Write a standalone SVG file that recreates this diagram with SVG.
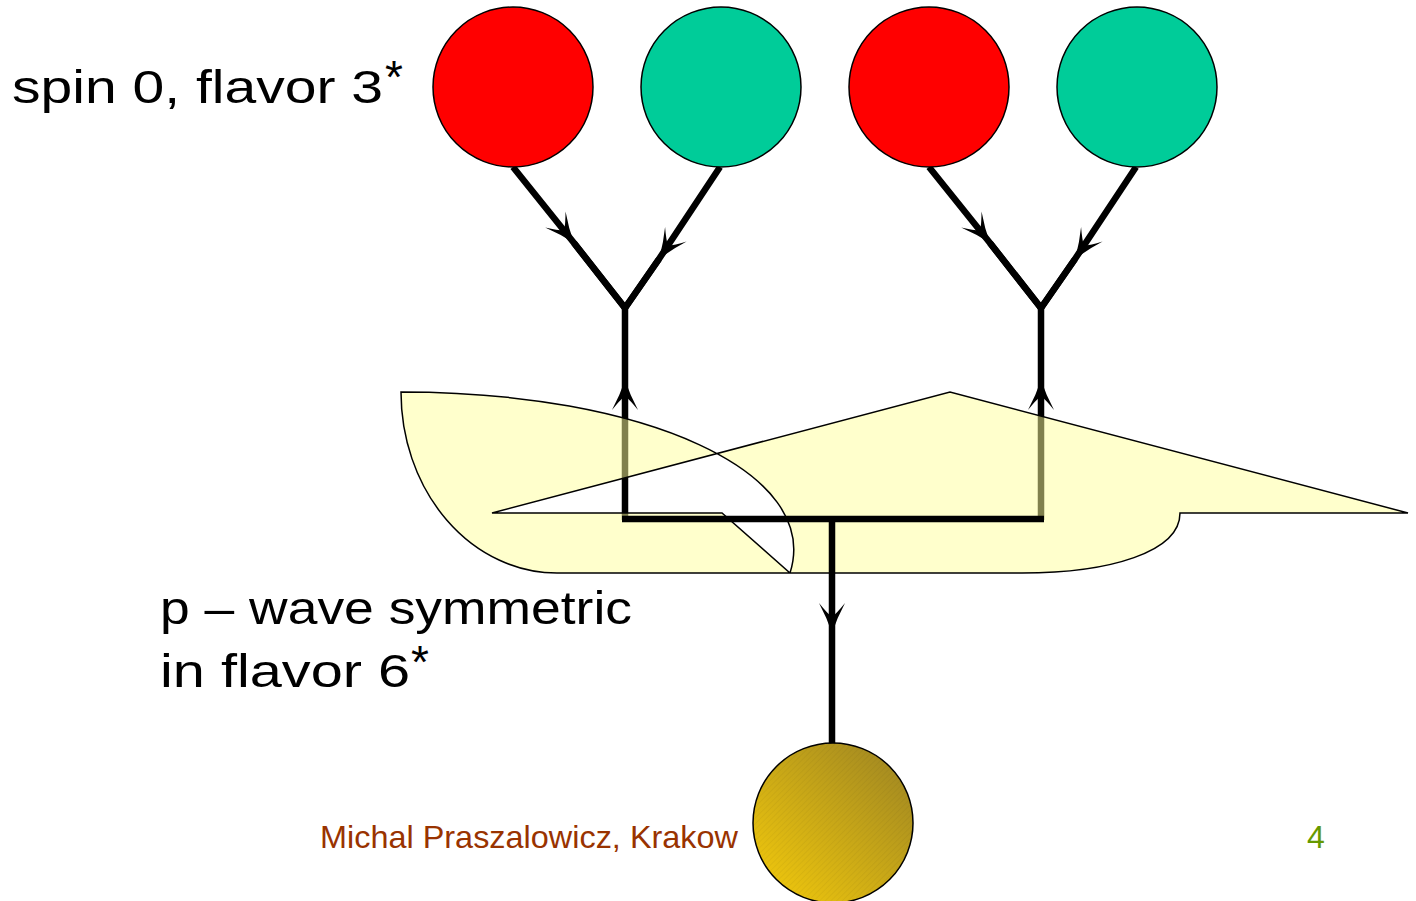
<svg xmlns="http://www.w3.org/2000/svg" width="1416" height="901" viewBox="0 0 1416 901">
<style>
.circ{stroke:#000;stroke-width:1.5}
.con{fill:none;stroke:#000;stroke-width:6.5;stroke-linejoin:miter}
.lbl{font-family:"Liberation Sans",Arial,sans-serif;font-size:46px;fill:#000}
.foot{font-family:"Liberation Sans",Arial,sans-serif;font-size:32px}
</style>
<defs>
<marker id="arr" markerUnits="userSpaceOnUse" markerWidth="34" markerHeight="30" viewBox="0 0 34 30" refX="30" refY="15" orient="auto">
<path d="M30,15 Q15,10 0,2 Q10,10 14,15 Q10,20 0,28 Q15,20 30,15 Z" fill="#000"/>
</marker>
<linearGradient id="gold" x1="0" y1="1" x2="1" y2="0">
<stop offset="0" stop-color="#F7CD0A"/>
<stop offset="1" stop-color="#9A8224"/>
</linearGradient>
<pattern id="hatch" patternUnits="userSpaceOnUse" width="4" height="4" patternTransform="rotate(45)">
<line x1="0" y1="0" x2="0" y2="4" stroke="#000" stroke-opacity="0.08" stroke-width="1"/>
</pattern>
</defs>
<rect width="1416" height="901" fill="#fff"/>

<g id="connectors">
<path class="con" d="M513,167 L574,243 L625,308" marker-mid="url(#arr)"/>
<path class="con" d="M720,167 L659,259 L625,308" marker-mid="url(#arr)"/>
<path class="con" d="M574,243 L625,308 L659,259"/>
<path class="con" d="M929,167 L990,243 L1041,308" marker-mid="url(#arr)"/>
<path class="con" d="M1136,167 L1075,259 L1041,308" marker-mid="url(#arr)"/>
<path class="con" d="M990,243 L1041,308 L1075,259"/>
<path class="con" d="M625,520 L625,380 L625,308" marker-mid="url(#arr)"/>
<path class="con" d="M1041,520 L1041,380 L1041,308" marker-mid="url(#arr)"/>
</g>

<g id="wave">
<path fill="#FFFF99" fill-opacity="0.5" fill-rule="evenodd" stroke="#000" stroke-width="1.5" d="M401,392 C645,392 822,472 790,573 L557,573 A156,181 0 0 1 401,392 Z M492,513 L950,392 L1408,513 L1180,513 C1180,552 1110,573 1022,573 L790,573 L722,513 Z"/>
</g>

<g id="connectors-top">
<path class="con" d="M622,519 L1044,519"/>
<path class="con" d="M832,519 L832,633 L832,745" marker-mid="url(#arr)"/>
</g>

<g id="quark1"><circle class="circ" cx="513" cy="87" r="80" fill="#FF0000"/></g>
<g id="quark2"><circle class="circ" cx="721" cy="87" r="80" fill="#00CC99"/></g>
<g id="quark3"><circle class="circ" cx="929" cy="87" r="80" fill="#FF0000"/></g>
<g id="quark4"><circle class="circ" cx="1137" cy="87" r="80" fill="#00CC99"/></g>
<g id="pentaquark">
<circle cx="833" cy="823" r="80" fill="url(#gold)"/>
<circle class="circ" cx="833" cy="823" r="80" fill="url(#hatch)"/>
</g>

<g id="labels">
<text class="lbl" x="12" y="103" textLength="371" lengthAdjust="spacingAndGlyphs">spin 0, flavor 3</text>
<text class="lbl" x="385" y="93">*</text>
<text class="lbl" x="160" y="624" textLength="472" lengthAdjust="spacingAndGlyphs">p – wave symmetric</text>
<text class="lbl" x="160" y="687" textLength="250" lengthAdjust="spacingAndGlyphs">in flavor 6</text>
<text class="lbl" x="411" y="678">*</text>
<text class="foot" x="320" y="848" fill="#993300" textLength="418" lengthAdjust="spacingAndGlyphs">Michal Praszalowicz, Krakow</text>
<text class="foot" x="1307" y="848" fill="#669900">4</text>
</g>
</svg>
